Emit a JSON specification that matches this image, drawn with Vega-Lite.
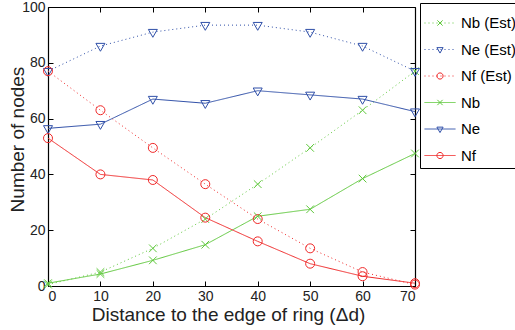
{
  "$schema": "https://vega.github.io/schema/vega-lite/v6.json",
  "autosize": {"type": "none"},
  "padding": {"left": 48, "top": 7, "right": 100, "bottom": 44},
  "width": 367,
  "height": 279,
  "background": "white",
  "config": {
    "view": {"stroke": null},
    "font": "Liberation Sans",
    "axis": {
      "domainColor": "black", "tickColor": "black", "labelColor": "#222222", "titleColor": "#222222",
      "labelFont": "Liberation Sans", "labelFontSize": 14, "titleFont": "Liberation Sans", "titleFontSize": 19,
      "titleFontWeight": "normal", "tickSize": -5, "grid": false, "domainWidth": 1.2, "tickWidth": 1
    }
  },
  "data": {"values": [
    {"d": 0, "n": 0.5, "s": "Nb (Est)"}, {"d": 10, "n": 5, "s": "Nb (Est)"}, {"d": 20, "n": 13.5, "s": "Nb (Est)"}, {"d": 30, "n": 24, "s": "Nb (Est)"},
    {"d": 40, "n": 36.5, "s": "Nb (Est)"}, {"d": 50, "n": 49.5, "s": "Nb (Est)"}, {"d": 60, "n": 63, "s": "Nb (Est)"}, {"d": 70, "n": 77, "s": "Nb (Est)"},
    {"d": 0, "n": 77, "s": "Ne (Est)"}, {"d": 10, "n": 86, "s": "Ne (Est)"}, {"d": 20, "n": 91, "s": "Ne (Est)"}, {"d": 30, "n": 93.5, "s": "Ne (Est)"},
    {"d": 40, "n": 93.5, "s": "Ne (Est)"}, {"d": 50, "n": 91, "s": "Ne (Est)"}, {"d": 60, "n": 86, "s": "Ne (Est)"}, {"d": 70, "n": 77, "s": "Ne (Est)"},
    {"d": 0, "n": 77, "s": "Nf (Est)"}, {"d": 10, "n": 63, "s": "Nf (Est)"}, {"d": 20, "n": 49.5, "s": "Nf (Est)"}, {"d": 30, "n": 36.5, "s": "Nf (Est)"},
    {"d": 40, "n": 24, "s": "Nf (Est)"}, {"d": 50, "n": 13.5, "s": "Nf (Est)"}, {"d": 60, "n": 5, "s": "Nf (Est)"}, {"d": 70, "n": 0.5, "s": "Nf (Est)"},
    {"d": 0, "n": 1, "s": "Nb"}, {"d": 10, "n": 4.3, "s": "Nb"}, {"d": 20, "n": 9.2, "s": "Nb"}, {"d": 30, "n": 14.8, "s": "Nb"},
    {"d": 40, "n": 25, "s": "Nb"}, {"d": 50, "n": 27.5, "s": "Nb"}, {"d": 60, "n": 38.5, "s": "Nb"}, {"d": 70, "n": 47.5, "s": "Nb"},
    {"d": 0, "n": 56.5, "s": "Ne"}, {"d": 10, "n": 58, "s": "Ne"}, {"d": 20, "n": 67, "s": "Ne"}, {"d": 30, "n": 65.5, "s": "Ne"},
    {"d": 40, "n": 70, "s": "Ne"}, {"d": 50, "n": 68.5, "s": "Ne"}, {"d": 60, "n": 67, "s": "Ne"}, {"d": 70, "n": 62.5, "s": "Ne"},
    {"d": 0, "n": 53, "s": "Nf"}, {"d": 10, "n": 40, "s": "Nf"}, {"d": 20, "n": 38, "s": "Nf"}, {"d": 30, "n": 24.5, "s": "Nf"},
    {"d": 40, "n": 16, "s": "Nf"}, {"d": 50, "n": 8, "s": "Nf"}, {"d": 60, "n": 3.5, "s": "Nf"}, {"d": 70, "n": 1, "s": "Nf"}
  ]},
  "resolve": {
    "axis": {"x": "independent", "y": "independent"},
    "legend": {"color": "independent", "shape": "independent", "strokeDash": "independent"}
  },
  "layer": [
    {
      "mark": {"type": "line", "strokeWidth": 1},
      "encoding": {
        "x": {"field": "d", "type": "quantitative", "scale": {"domain": [0, 70], "nice": false},
              "axis": {"orient": "bottom", "values": [0, 10, 20, 30, 40, 50, 60, 70], "title": "Distance to the edge of ring (Δd)", "labelPadding": 8,
                       "titleX": 180, "titleY": 34, "titleBaseline": "alphabetic"}},
        "y": {"field": "n", "type": "quantitative", "scale": {"domain": [0, 100], "nice": false},
              "axis": {"orient": "left", "values": [0, 20, 40, 60, 80, 100], "title": "Number of nodes", "labelPadding": 8,
                       "titleX": -25, "titleY": 132, "titleBaseline": "alphabetic"}},
        "color": {"field": "s", "type": "nominal",
                  "scale": {"domain": ["Nb (Est)", "Ne (Est)", "Nf (Est)", "Nb", "Ne", "Nf"], "range": ["#5fc83c", "#2f4fa8", "#f02828", "#5fc83c", "#2f4fa8", "#f02828"]},
                  "legend": {"orient": "none", "legendX": 372, "legendY": -4, "title": null, "symbolType": "stroke", "symbolSize": 961, "symbolStrokeWidth": 1,
                             "labelFont": "Liberation Sans", "labelFontSize": 15, "labelColor": "black", "labelOffset": 5, "padding": 4, "rowPadding": 2.5,
                             "fillColor": "white", "strokeColor": "black"}},
        "strokeDash": {"field": "s", "type": "nominal",
                  "scale": {"domain": ["Nb (Est)", "Ne (Est)", "Nf (Est)", "Nb", "Ne", "Nf"], "range": [[1, 3], [1, 3], [1, 3], [1, 0], [1, 0], [1, 0]]},
                  "legend": {"orient": "none", "legendX": 372, "legendY": -4, "title": null, "symbolType": "stroke", "symbolSize": 961, "symbolStrokeWidth": 1,
                             "labelFont": "Liberation Sans", "labelFontSize": 15, "labelColor": "black", "labelOffset": 5, "padding": 4, "rowPadding": 2.5,
                             "fillColor": "white", "strokeColor": "black"}}
      }
    },
    {
      "mark": {"type": "point", "filled": false, "size": 2025, "strokeWidth": 1, "opacity": 1},
      "encoding": {
        "x": {"field": "d", "type": "quantitative", "axis": {"orient": "top", "values": [0, 10, 20, 30, 40, 50, 60, 70], "labels": false, "title": null}},
        "y": {"field": "n", "type": "quantitative", "axis": {"orient": "right", "values": [0, 20, 40, 60, 80, 100], "labels": false, "title": null}},
        "color": {"field": "s", "type": "nominal",
                  "legend": {"orient": "none", "legendX": 372, "legendY": -4, "title": null, "symbolSize": 961, "symbolStrokeWidth": 1,
                             "labelFont": "Liberation Sans", "labelFontSize": 15, "labelOpacity": 0, "labelOffset": 5, "padding": 4, "rowPadding": 2.5}},
        "shape": {"field": "s", "type": "nominal",
                  "scale": {"domain": ["Nb (Est)", "Ne (Est)", "Nf (Est)", "Nb", "Ne", "Nf"],
                            "range": ["M-0.17,-0.17L0.17,0.17M-0.17,0.17L0.17,-0.17", "M-0.2,-0.12L0.2,-0.12L0,0.23Z", "M0.2,0A0.2,0.2,0,1,1,-0.2,0A0.2,0.2,0,1,1,0.2,0Z",
                                      "M-0.17,-0.17L0.17,0.17M-0.17,0.17L0.17,-0.17", "M-0.2,-0.12L0.2,-0.12L0,0.23Z", "M0.2,0A0.2,0.2,0,1,1,-0.2,0A0.2,0.2,0,1,1,0.2,0Z"]},
                  "legend": {"orient": "none", "legendX": 372, "legendY": -4, "title": null, "symbolSize": 961, "symbolStrokeWidth": 1,
                             "labelFont": "Liberation Sans", "labelFontSize": 15, "labelOpacity": 0, "labelOffset": 5, "padding": 4, "rowPadding": 2.5}}
      }
    }
  ]
}
